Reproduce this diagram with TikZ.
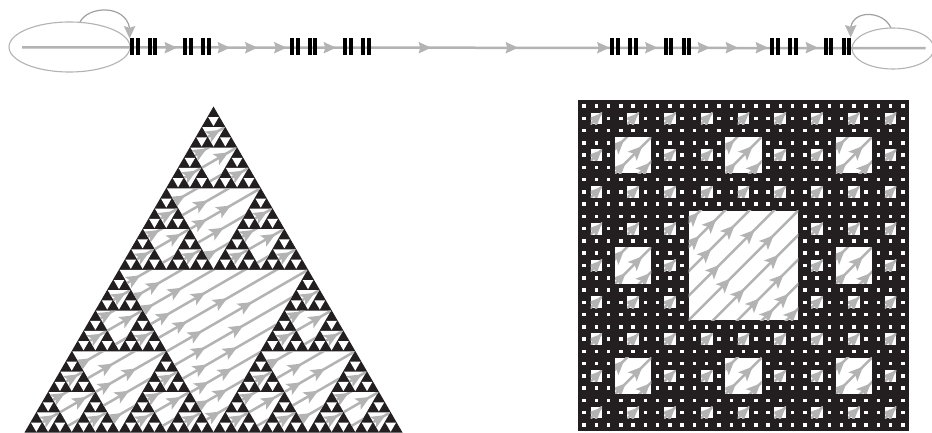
\documentclass[tikz,border=0pt]{standalone}
\definecolor{flowgrey}{HTML}{B3B3B3}
\definecolor{ink}{HTML}{231F20}
\tikzset{
  flowstroke/.style={draw=flowgrey,line width=2.5pt},
  ringstroke/.style={draw=flowgrey,line width=1.1pt},
  loopstroke/.style={draw=flowgrey!90!black,line width=1.2pt},
  barstroke/.style={fill=black},
}
% an arrow head centred on a point
\newcommand\flowtip[3]{\fill[flowgrey,shift={(#1,#2)},rotate=#3] (7.4,0)--(-7,6.4)--(-3.6,0)--(-7,-6.4)--cycle;}
\newcommand\striptip[3]{\fill[flowgrey,shift={(#1,#2)},rotate=#3] (6.5,0)--(-6,5.8)--(-4.2,0)--(-6,-5.8)--cycle;}
% 30 degree family for the triangle, c = y + 0.577 x
\newcommand\tline[1]{\draw[flowstroke] (-6,{#1+3.46}) -- ({#1/0.577+6},-3.46);}
\newcommand\thead[2]{\flowtip{#2}{#1-0.577*#2}{30}}
% 45 degree family for the carpet, c = x + y
\newcommand\qline[1]{\draw[flowstroke] (-4,{#1+4}) -- ({#1+4},-4);}
\newcommand\qhead[2]{\flowtip{#2}{#1-#2}{45}}

\newcommand\tricontentA{%
  \foreach \c in {18.2,36.5,54.7,72.9,91.2,109.4,127.7,145.9,164.1,182.4,200.6}{\tline{\c}}
  \thead{18.2}{15}
  \thead{36.5}{35}\thead{36.5}{18.3}
  \thead{54.7}{56.7}\thead{54.7}{28.3}
  \thead{72.9}{80}\thead{72.9}{45}
  \thead{91.2}{101.7}\thead{91.2}{61.7}
  \thead{109.4}{126.7}\thead{109.4}{76.7}
  \thead{127.7}{118}\thead{127.7}{80}
  \thead{145.9}{111.7}\thead{145.9}{81.7}
  \thead{164.1}{106.7}\thead{164.1}{83.3}
  \thead{182.4}{101.7}\thead{182.4}{83.3}
  \thead{200.6}{95}
}
\newcommand\tricontentB{%
  \foreach \c in {18.2,36.5,54.7,72.9,91.2}{\tline{\c}}
  \thead{18.2}{12.5}
  \thead{36.5}{35}
  \thead{54.7}{58}\thead{54.7}{34}
  \thead{72.9}{51}
  \thead{91.2}{44}
}
\newcommand\tricontentC{%
  \foreach \c in {11,27.36,45.6}{\tline{\c}}
  \thead{11}{10.5}
  \thead{27.36}{32}
}
\newcommand\tricontentD{%
  \tline{13.68}
  \thead{13.68}{12}
}
\newcommand\tricontentE{}

% level, apex x, apex y
\newcommand\sierp[3]{%
  \begingroup
  \pgfmathsetmacro\ss{378/2^(#1-1)}%
  \pgfmathsetmacro\hh{326/2^(#1-1)}%
  \pgfmathsetmacro\cx{#2-\ss/4}%
  \pgfmathsetmacro\cy{#3+\hh/2}%
  \begin{scope}[shift={(\cx,\cy)}]
    \fill[white] (0.6,0.35)--({\ss/2-0.6},0.35)--({\ss/4},{\hh/2-0.7})--cycle;
    \clip (0.6,0.35)--({\ss/2-0.6},0.35)--({\ss/4},{\hh/2-0.7})--cycle;
    \csname tricontent\ifcase#1\or A\or B\or C\or D\or E\fi\endcsname
  \end{scope}
  \ifnum#1<5
    \pgfmathtruncatemacro\nl{#1+1}%
    \pgfmathsetmacro\xa{#2-\ss/4}%
    \pgfmathsetmacro\xb{#2+\ss/4}%
    \edef\next{\noexpand\sierp{\nl}{#2}{#3}\noexpand\sierp{\nl}{\xa}{\cy}\noexpand\sierp{\nl}{\xb}{\cy}}%
    \next
  \fi
  \endgroup
}

\newcommand\carcontentA{%
  \foreach \c in {12.3,36.8,61.3,85.8,110.3,134.8,159.3,183.8,208.3}{\qline{\c}}
  \qhead{12.3}{5}
  \qhead{36.8}{6}\qhead{36.8}{22.7}
  \qhead{61.3}{41}\qhead{61.3}{17.7}
  \qhead{85.8}{61}\qhead{85.8}{26}
  \qhead{110.3}{80}\qhead{110.3}{36.7}
  \qhead{134.8}{85}\qhead{134.8}{51}
  \qhead{159.3}{90}\qhead{159.3}{66}
  \qhead{183.8}{95}\qhead{183.8}{80}
  \qhead{208.3}{104}
}
\newcommand\carcontentB{%
  \foreach \c in {12.3,36.8,61.3}{\qline{\c}}
  \qhead{12.3}{4}
  \qhead{36.8}{22.3}\qhead{36.8}{5.7}
  \qhead{61.3}{30}
}
\newcommand\carcontentC{%
  \qline{12.26}
  \qhead{12.26}{6.1}
}
\newcommand\carcontentD{}

% level, x, y of the top-left corner
\newcommand\carp[3]{%
  \begingroup
  \pgfmathsetmacro\tt{331/3^#1}%
  \pgfmathsetmacro\cx{#2+\tt}%
  \pgfmathsetmacro\cy{#3+\tt}%
  \begin{scope}[shift={(\cx,\cy)}]
    \fill[white] (0.3,0.3) rectangle ({\tt-0.3},{\tt-0.3});
    \ifnum#1<4
      \clip (0.3,0.3) rectangle ({\tt-0.3},{\tt-0.3});
      \csname carcontent\ifcase#1\or A\or B\or C\or D\fi\endcsname
    \fi
  \end{scope}
  \ifnum#1<4
    \pgfmathtruncatemacro\nl{#1+1}%
    \foreach \i/\j in {0/0,1/0,2/0,0/1,2/1,0/2,1/2,2/2}{%
      \pgfmathsetmacro\xn{#2+\i*\tt}%
      \pgfmathsetmacro\yn{#3+\j*\tt}%
      \edef\next{\noexpand\carp{\nl}{\xn}{\yn}}%
      \next
    }%
  \fi
  \endgroup
}

\begin{document}
\begin{tikzpicture}[x=1pt,y=-1pt]
\useasboundingbox (0,0) rectangle (932,433);
\fill[white] (0,0) rectangle (932,433);

% top strip
\coordinate (s) at (22,47.3);
\coordinate (e) at (925.5,48.2);
\draw[ringstroke] (69.5,47) ellipse [x radius=60.5,y radius=25];
\begin{scope}
\clip (0,0) rectangle (932,433);
\draw[ringstroke] (893,48.5) ellipse [x radius=41,y radius=20.5];
\end{scope}
\draw[flowstroke] (s) -- (e);
\foreach \x in {170.5,223.5,251,280,329.5,424.5,511.5,603,651,703.5,731.5,761.5,811.5}{\striptip{\x}{47.7}{0}}
\foreach \x in {134.7,152.3,188,205.7,294.7,312.5,348,366,615,632.8,668.5,686.5,775,792.7,828.5,846.3}{
  \fill[barstroke] ({\x-4.8},38.4) rectangle ({\x-0.8},55);
  \fill[barstroke] ({\x+0.8},38.4) rectangle ({\x+4.8},55);
}
\coordinate (la) at (80,22);
\coordinate (lb) at (129.6,28);
\coordinate (ra) at (890.7,27.7);
\coordinate (rb) at (850.7,28);
\draw[loopstroke] (la) .. controls (88,6) and (125,4) .. (lb);
\draw[loopstroke] (ra) .. controls (884,11) and (853,9) .. (rb);
\striptip{129.6}{32}{-90}
\striptip{850.7}{31}{-90}

% triangle
\fill[ink] (213.5,106.5) -- (402.5,432.5) -- (24.5,432.5) -- cycle;
\sierp{1}{213.5}{106.5}

% carpet
\fill[ink] (578,100) rectangle (909,431);
\carp{1}{578}{100}
\end{tikzpicture}
\end{document}
